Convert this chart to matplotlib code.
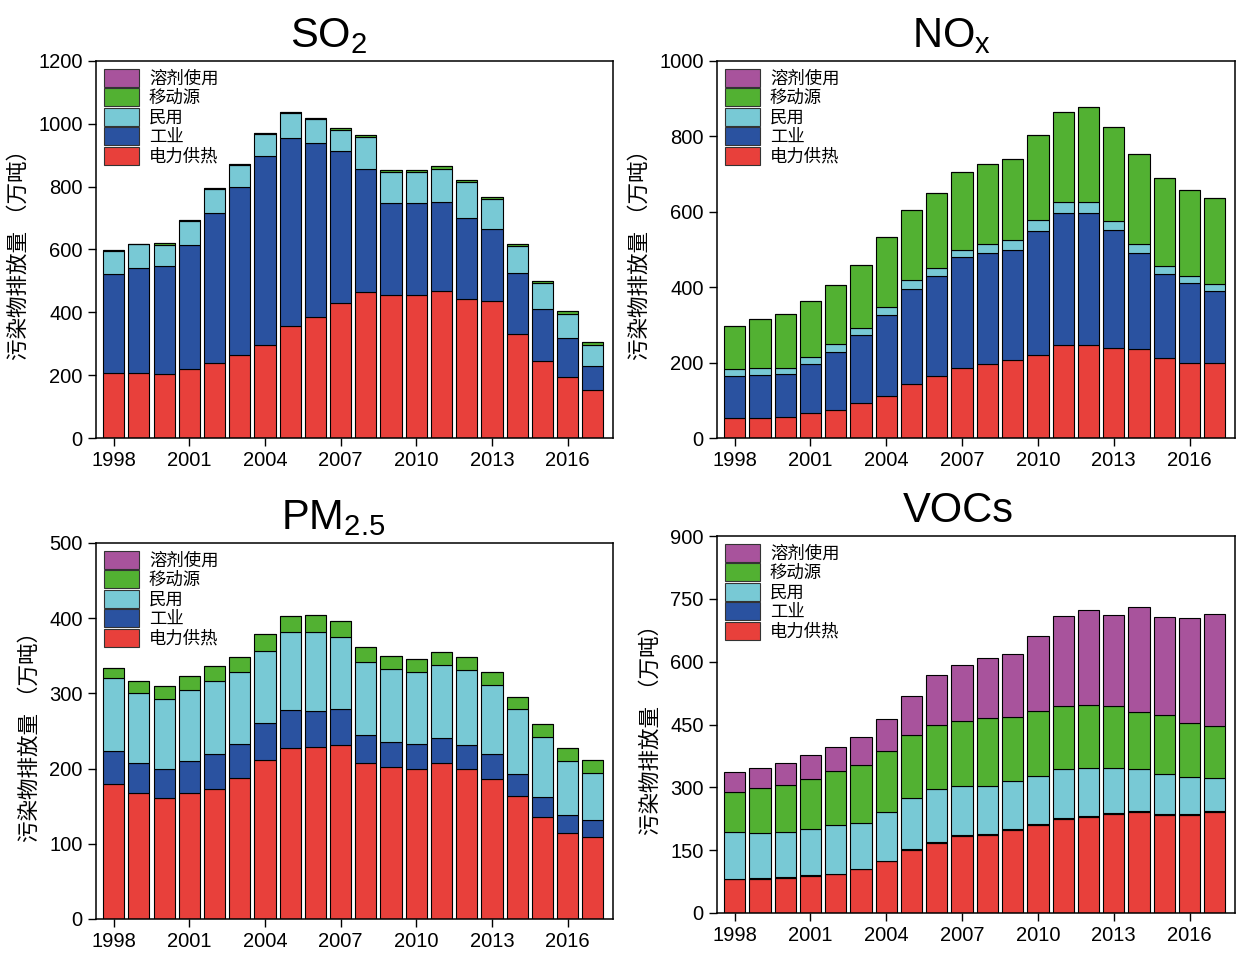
import numpy as np
import matplotlib
matplotlib.use('Agg')
import matplotlib.pyplot as plt

plt.rcParams['font.family'] = ['Liberation Sans', 'Noto Sans CJK SC']
plt.rcParams['mathtext.default'] = 'regular'

years = np.arange(1998, 2018)
sectors = ['电力供热', '工业', '民用', '移动源', '溶剂使用']
colors = ['#e8403b', '#2a52a0', '#78c9d5', '#52b132', '#a8539c']
ylab = '污染物排放量 （万吨）'

# SO2 (万吨)
so2_power = [208, 208, 205, 219, 238, 265, 297, 357, 386, 431, 464, 454, 454, 467, 442, 436, 330, 244, 194, 154]
so2_industry = [315, 333, 343, 396, 477, 534, 602, 598, 554, 483, 393, 295, 295, 285, 258, 230, 194, 167, 124, 75]
so2_residential = [72, 76, 67, 76, 79, 69, 70, 78, 74, 67, 100, 98, 99, 105, 114, 96, 88, 82, 77, 68]
so2_mobile = [3, 2, 7, 4, 3, 4, 3, 5, 6, 6, 6, 5, 6, 8, 6, 6, 7, 7, 8, 8]
so2_solvent = [0] * 20

# NOx
nox_power = [54, 54, 56, 66, 74, 92, 111, 144, 164, 187, 197, 208, 219, 248, 248, 239, 237, 213, 199, 199]
nox_industry = [111, 112, 113, 131, 154, 180, 216, 252, 265, 292, 293, 291, 331, 350, 348, 314, 253, 222, 212, 190]
nox_residential = [18, 20, 18, 19, 22, 19, 21, 22, 23, 21, 25, 27, 27, 29, 29, 23, 24, 21, 20, 20]
nox_mobile = [114, 130, 143, 148, 155, 167, 184, 188, 197, 205, 213, 214, 227, 237, 253, 250, 240, 234, 228, 228]
nox_solvent = [0] * 20

# PM2.5
pm_power = [180, 167, 161, 167, 173, 188, 211, 227, 229, 232, 207, 202, 200, 207, 199, 186, 164, 135, 114, 109]
pm_industry = [43, 41, 39, 43, 46, 45, 49, 51, 48, 47, 38, 33, 33, 34, 33, 33, 29, 27, 24, 22]
pm_residential = [97, 93, 92, 95, 98, 95, 97, 104, 105, 96, 97, 97, 95, 97, 99, 92, 86, 80, 72, 63]
pm_mobile = [14, 16, 18, 18, 19, 20, 22, 21, 22, 21, 20, 18, 18, 17, 18, 18, 16, 17, 17, 18]
pm_solvent = [0] * 20

# VOCs
voc_power = [81, 81, 84, 89, 93, 105, 123, 150, 168, 184, 186, 199, 210, 224, 228, 236, 240, 234, 233, 240]
voc_industry = [1, 2, 2, 1, 1, 1, 1, 2, 2, 2, 3, 2, 3, 3, 3, 3, 3, 3, 4, 4]
voc_residential = [112, 109, 107, 110, 115, 110, 116, 122, 126, 116, 115, 114, 114, 116, 116, 107, 100, 95, 87, 78]
voc_mobile = [95, 106, 113, 121, 131, 137, 146, 150, 154, 157, 161, 154, 155, 150, 150, 148, 138, 141, 129, 124]
voc_solvent = [48, 49, 53, 55, 57, 66, 76, 93, 118, 132, 143, 150, 179, 216, 227, 217, 249, 234, 251, 268]

W, H = 1237, 956
fig = plt.figure(figsize=(W / 100, H / 100), dpi=100)

# title, series, ymax, ystep, axes box in px (left, top, right, bottom), title x
panels = [
    ('SO$_2$', [so2_power, so2_industry, so2_residential, so2_mobile, so2_solvent], 1200, 200, (96, 61, 613, 438), 0.45),
    ('NO$_x$', [nox_power, nox_industry, nox_residential, nox_mobile, nox_solvent], 1000, 200, (717, 61, 1235, 438), 0.452),
    ('PM$_{2.5}$', [pm_power, pm_industry, pm_residential, pm_mobile, pm_solvent], 500, 100, (96, 543, 613, 919), 0.458),
    ('VOCs', [voc_power, voc_industry, voc_residential, voc_mobile, voc_solvent], 900, 150, (717, 536, 1235, 913), 0.465),
]

for title, series, ymax, ystep, (x0, y0, x1, y1), tx in panels:
    ax = fig.add_axes([x0 / W, 1 - y1 / H, (x1 - x0) / W, (y1 - y0) / H])
    bottom = np.zeros(len(years))
    handles = []
    for vals, name, c in zip(series, sectors, colors):
        vals = np.array(vals, dtype=float)
        b = ax.bar(years, vals, 0.84, bottom=bottom, color=c, edgecolor='black',
                   linewidth=0.8, label=name)
        handles.append(b)
        bottom += vals
    ax.set_xlim(1997.3, 2017.8)
    ax.set_ylim(0, ymax)
    ax.set_xticks(np.arange(1998, 2018, 3))
    ax.set_yticks(np.arange(0, ymax + 1, ystep))
    ax.tick_params(direction='out', length=6, width=1, labelsize=14.5, top=False, right=False)
    for s in ax.spines.values():
        s.set_linewidth(1.1)
    ax.set_title(title, fontsize=30, pad=10, x=tx)
    ax.set_ylabel(ylab, fontsize=15.5, labelpad=6)
    leg = ax.legend(handles[::-1], sectors[::-1], loc='upper left', frameon=False,
                    fontsize=12.5, handlelength=2.0, handleheight=1.2, labelspacing=0.1,
                    handletextpad=0.6, borderaxespad=0.3, borderpad=0.15)
    for p in leg.get_patches():
        p.set_edgecolor('#333333')

fig.savefig('out.png', dpi=100)
